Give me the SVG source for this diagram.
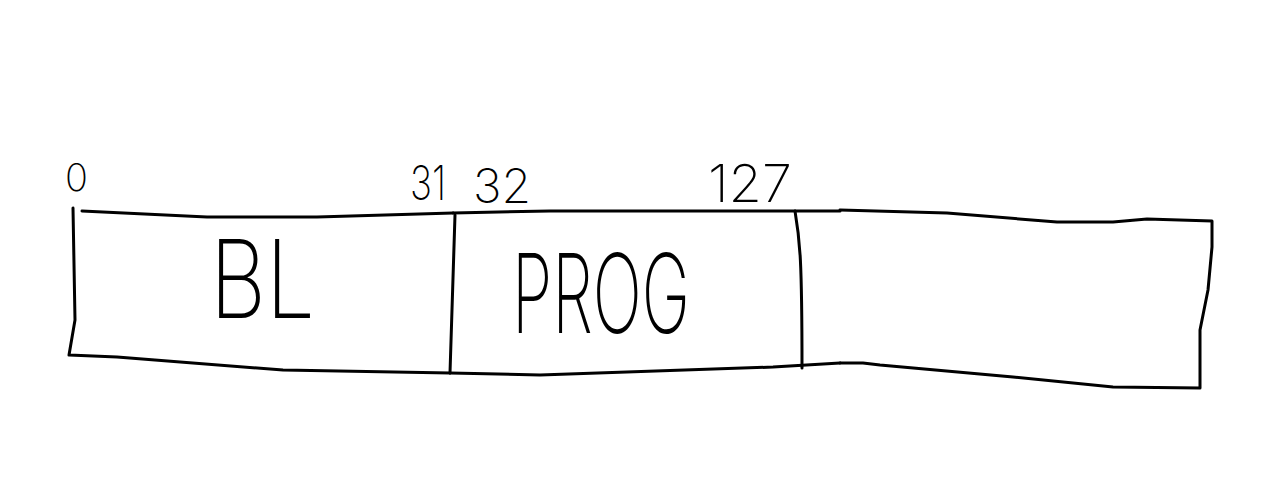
<svg xmlns="http://www.w3.org/2000/svg" width="1288" height="501" viewBox="0 0 1288 501">
<style>
.ln{fill:none;stroke:#000;stroke-width:3;stroke-linejoin:round;stroke-linecap:round}
.t{font-family:Inter,Lato,"Liberation Sans",sans-serif;font-weight:200;fill:#000}
</style>
<rect width="1288" height="501" fill="#fff"/>
<g id="cell-bl">
<path class="ln" d="M82,211 L207,217 L317,217 L453,213"/>
<path class="ln" d="M73,208 L75,320 L69,355 L117,357 L283,370 L450,373"/>
<path class="ln" d="M455,215 L450,373"/>
<text class="t" x="210" y="318" font-size="108" textLength="105" lengthAdjust="spacingAndGlyphs">BL</text>
</g>
<g id="cell-prog">
<path class="ln" d="M453,213 L550,211 L840,211"/>
<path class="ln" d="M450,373 L540,375 L773,367 L840,363"/>
<path class="ln" d="M795,211 C800,240 802,260 802,368"/>
<text class="t" x="512" y="333" font-size="110" textLength="178" lengthAdjust="spacingAndGlyphs">PROG</text>
</g>
<g id="cell-free">
<path class="ln" d="M840,210 L947,213 L1057,222 L1113,222 L1147,219 L1212,221 L1212,247 L1208,290 L1200,330 L1200,388 L1113,387 L1013,377 L880,365 L863,363 L840,363"/>
</g>
<g id="labels">
<text class="t" x="65" y="191" font-size="38">0</text>
<text class="t" x="410" y="200" font-size="48" textLength="36" lengthAdjust="spacingAndGlyphs">31</text>
<text class="t" x="473" y="203" font-size="48" textLength="58" lengthAdjust="spacingAndGlyphs">32</text>
<text class="t" x="708" y="202" font-size="52" textLength="84" lengthAdjust="spacingAndGlyphs">127</text>
</g>
<g id="connectors"/>
</svg>
